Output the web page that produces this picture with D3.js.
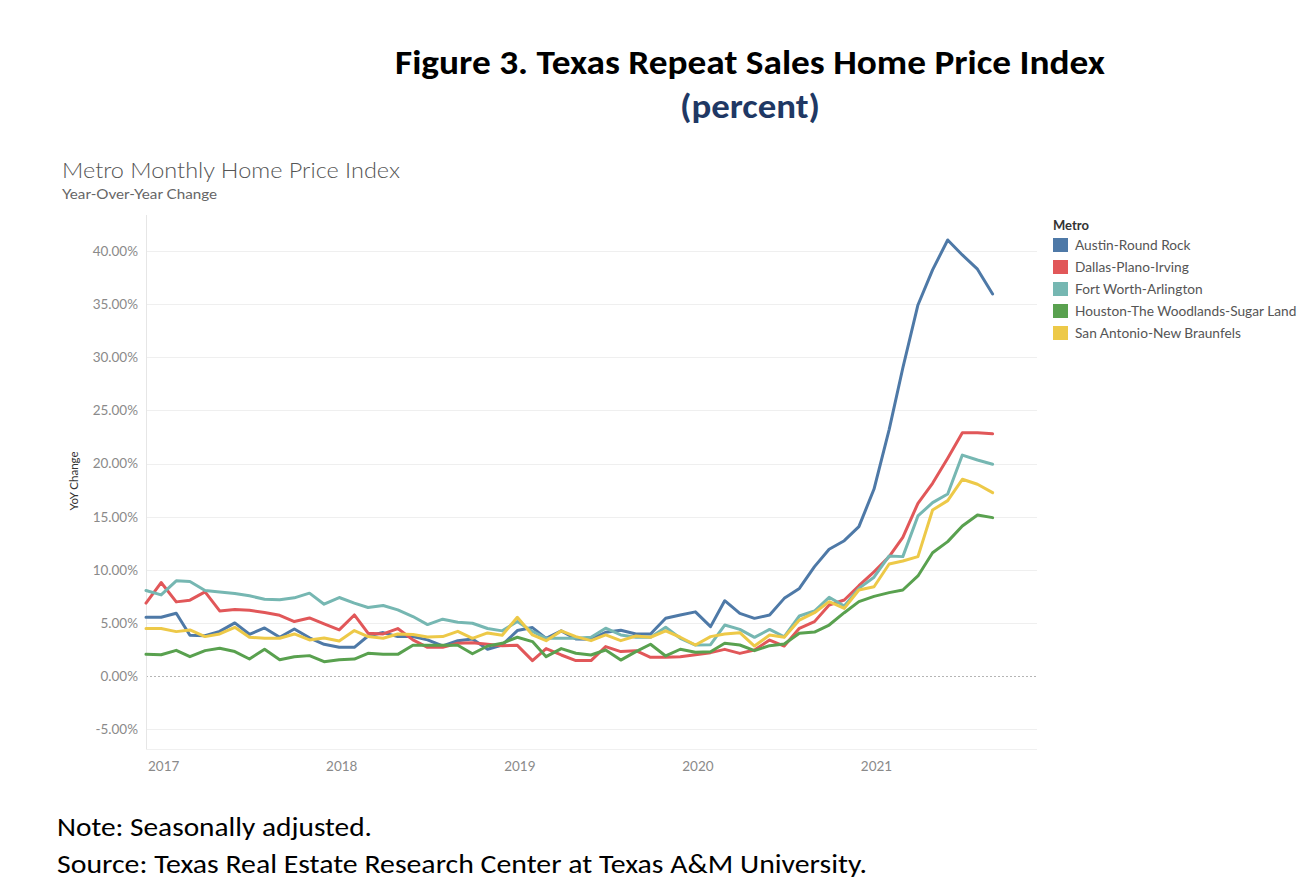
<!DOCTYPE html>
<html>
<head>
<meta charset="utf-8">
<script src="https://cdn.jsdelivr.net/npm/d3@7"></script>
<style>
  html, body { margin: 0; padding: 0; background: #fff; }
  svg { display: block; }
</style>
</head>
<body>
<svg id="chart" width="1316" height="896"></svg>
<script>
// ---------- DATA ----------
const startMonth = "2016-12";   // first monthly observation
const metros = ["Austin-Round Rock", "Dallas-Plano-Irving", "Fort Worth-Arlington",
                "Houston-The Woodlands-Sugar Land", "San Antonio-New Braunfels"];
const colors = ["#4e79a7", "#e15759", "#76b7b2", "#59a14f", "#edc948"];

const austin = [5.53,5.53,5.91,3.84,3.80,4.20,5.00,3.93,4.53,3.65,4.43,3.60,2.99,2.70,
  2.70,3.77,4.09,3.71,3.71,3.40,2.83,3.33,3.49,2.52,2.92,4.28,4.56,
  3.55,4.25,3.49,3.46,4.12,4.31,3.96,3.96,5.44,5.75,6.04,4.65,7.09,5.90,5.43,5.74,7.31,8.25,
  10.30,11.93,12.74,14.06,17.60,23.20,29.00,34.93,38.23,41.05,39.64,38.30,35.97];
const dallas = [6.86,8.80,6.98,7.14,7.92,6.13,6.26,6.19,5.97,5.72,5.13,5.47,4.90,4.34,
  5.75,4.03,3.96,4.47,3.40,2.70,2.70,3.08,3.14,2.99,2.86,2.89,1.45,
  2.58,1.98,1.45,1.45,2.77,2.30,2.39,1.76,1.76,1.82,2.00,2.20,2.51,2.13,2.45,3.39,2.82,4.49,
  5.12,6.69,7.16,8.50,9.80,11.24,13.06,16.26,18.14,20.50,22.90,22.90,22.80];
const fortWorth = [8.05,7.64,8.96,8.90,8.05,7.92,7.77,7.55,7.23,7.17,7.36,7.80,6.76,7.39,
  6.86,6.45,6.64,6.23,5.60,4.84,5.35,5.06,4.97,4.47,4.25,5.13,4.20,
  3.55,3.55,3.55,3.65,4.50,3.87,3.65,3.65,4.59,3.55,2.92,2.95,4.80,4.39,3.64,4.39,3.70,5.65,
  6.12,7.41,6.59,8.25,9.30,11.30,11.24,15.07,16.32,17.14,20.80,20.34,19.93];
const houston = [2.04,2.00,2.42,1.82,2.39,2.61,2.30,1.60,2.52,1.54,1.82,1.92,1.35,1.54,
  1.60,2.14,2.04,2.04,2.89,2.89,2.89,2.89,2.10,2.83,3.08,3.65,3.24,
  1.82,2.58,2.14,1.98,2.45,1.50,2.30,2.99,1.89,2.52,2.23,2.29,3.08,2.92,2.39,2.86,3.01,4.02,
  4.14,4.80,5.96,7.00,7.50,7.85,8.10,9.42,11.61,12.65,14.12,15.16,14.91];
const sanAntonio = [4.47,4.47,4.18,4.34,3.71,3.96,4.59,3.65,3.55,3.55,3.96,3.40,3.58,3.30,
  4.28,3.71,3.55,3.96,3.90,3.68,3.71,4.21,3.55,4.06,3.84,5.53,3.87,
  3.33,4.25,3.71,3.33,3.87,3.33,3.77,3.65,4.25,3.65,2.92,3.71,3.95,4.08,2.82,3.86,3.64,5.27,
  5.96,7.00,6.37,8.10,8.40,10.55,10.83,11.24,15.63,16.51,18.52,18.05,17.26];
const seriesValues = [austin, dallas, fortWorth, houston, sanAntonio];

const yTicks = [-5, 0, 5, 10, 15, 20, 25, 30, 35, 40];
const xTickYears = [2017, 2018, 2019, 2020, 2021];

const figTitle = "Figure 3. Texas Repeat Sales Home Price Index";
const figSubtitle = "(percent)";
const chartTitle = "Metro Monthly Home Price Index";
const chartSubtitle = "Year-Over-Year Change";
const yAxisTitle = "YoY Change";
const legendTitle = "Metro";
const noteText = "Note: Seasonally adjusted.";
const sourceText = "Source: Texas Real Estate Research Center at Texas A&M University.";

// ---------- SETUP ----------
const svg = d3.select("#chart");
const tabFont = "Lato, 'Open Sans', 'Noto Sans', sans-serif";
const docFont = "Carlito, Calibri, 'Liberation Sans Narrow', Lato, 'Open Sans', sans-serif";

const parseMonth = d3.timeParse("%Y-%m");
const t0 = parseMonth(startMonth);
const dates = austin.map((_, i) => d3.timeMonth.offset(t0, i));

const plot = { left: 146, right: 1037, top: 215, bottom: 749 };
const x = d3.scaleTime()
  .domain([t0, d3.timeMonth.offset(t0, 60)])
  .range([plot.left, plot.right]);
const y = d3.scaleLinear()
  .domain([-6.87, 43.4])
  .range([plot.bottom, plot.top]);

function fit(sel, w) {
  const len = sel.node().getComputedTextLength();
  if (Math.abs(len - w) > 1.5) sel.attr("textLength", w).attr("lengthAdjust", "spacingAndGlyphs");
  return sel;
}

// ---------- FIGURE HEADINGS ----------
fit(svg.append("text").attr("x", 395).attr("y", 74)
  .attr("font-family", docFont).attr("font-weight", "bold").attr("font-size", 35)
  .attr("fill", "#000").text(figTitle), 710);
fit(svg.append("text").attr("x", 680).attr("y", 118)
  .attr("font-family", docFont).attr("font-weight", "bold").attr("font-size", 35)
  .attr("fill", "#1f3864").text(figSubtitle), 140);

// ---------- CHART TITLES ----------
fit(svg.append("text").attr("x", 62).attr("y", 178)
  .attr("font-family", tabFont).attr("font-weight", 300).attr("font-size", 21)
  .attr("fill", "#555").text(chartTitle), 338);
fit(svg.append("text").attr("x", 62).attr("y", 199)
  .attr("font-family", tabFont).attr("font-weight", 400).attr("font-size", 13)
  .attr("fill", "#666").text(chartSubtitle), 155);

// ---------- GRID / AXES ----------
const g = svg.append("g");
g.selectAll("line.grid").data(yTicks.filter(d => d !== 0)).join("line")
  .attr("class", "grid")
  .attr("x1", plot.left).attr("x2", plot.right)
  .attr("y1", d => Math.round(y(d)) + 0.5).attr("y2", d => Math.round(y(d)) + 0.5)
  .attr("stroke", "#efefef").attr("stroke-width", 1);
// zero line
g.append("line")
  .attr("x1", plot.left).attr("x2", plot.right)
  .attr("y1", Math.round(y(0)) + 0.5).attr("y2", Math.round(y(0)) + 0.5)
  .attr("stroke", "#b5b5b5").attr("stroke-width", 1).attr("stroke-dasharray", "2,2");
// left axis line & bottom line
g.append("line").attr("x1", plot.left + 0.5).attr("x2", plot.left + 0.5)
  .attr("y1", plot.top).attr("y2", plot.bottom).attr("stroke", "#e6e6e6");
g.append("line").attr("x1", plot.left).attr("x2", plot.right)
  .attr("y1", plot.bottom + 0.5).attr("y2", plot.bottom + 0.5).attr("stroke", "#f0f0f0");

// Y axis (d3 axis, styled)
const yAxis = d3.axisLeft(y).tickValues(yTicks)
  .tickFormat(d => (d3.format(".2f")(d) + "%").replace("\u2212", "-"))
  .tickSize(0).tickPadding(8);
const yg = svg.append("g").attr("transform", `translate(${plot.left},0)`).call(yAxis);
yg.select(".domain").remove();
yg.selectAll("text").attr("font-family", tabFont).attr("font-size", 13.5).attr("fill", "#8a8a8a");

// X axis
const xAxis = d3.axisBottom(x)
  .tickValues(xTickYears.map(yr => new Date(yr, 0, 1)))
  .tickFormat(d3.timeFormat("%Y")).tickSize(0).tickPadding(12);
const xg = svg.append("g").attr("transform", `translate(0,${plot.bottom})`).call(xAxis);
xg.select(".domain").remove();
xg.selectAll("text").attr("font-family", tabFont).attr("font-size", 13.5).attr("fill", "#8a8a8a")
  .attr("dx", 2);

// Y axis title
svg.append("text")
  .attr("transform", "translate(78,481) rotate(-90)")
  .attr("text-anchor", "middle")
  .attr("font-family", tabFont).attr("font-size", 11.5).attr("fill", "#333")
  .text(yAxisTitle);

// ---------- LINES ----------
const line = d3.line().x((d, i) => x(dates[i])).y(d => y(d));
svg.append("g").selectAll("path").data(seriesValues).join("path")
  .attr("d", d => line(d))
  .attr("fill", "none")
  .attr("stroke", (d, i) => colors[i])
  .attr("stroke-width", 3)
  .attr("stroke-linejoin", "round")
  .attr("stroke-linecap", "round");

// ---------- LEGEND ----------
const lg = svg.append("g").attr("transform", "translate(1053,0)");
lg.append("text").attr("x", 0).attr("y", 230)
  .attr("font-family", tabFont).attr("font-weight", "bold").attr("font-size", 13)
  .attr("fill", "#333").text(legendTitle);
const items = lg.selectAll("g.item").data(metros).join("g")
  .attr("class", "item")
  .attr("transform", (d, i) => `translate(0,${238 + i * 22})`);
items.append("rect").attr("width", 15).attr("height", 14)
  .attr("fill", (d, i) => colors[i]);
items.append("text").attr("x", 22).attr("y", 12)
  .attr("font-family", tabFont).attr("font-size", 13.7).attr("fill", "#555")
  .text(d => d);

// ---------- NOTES ----------
fit(svg.append("text").attr("x", 57).attr("y", 836)
  .attr("font-family", docFont).attr("font-size", 27).attr("fill", "#000")
  .text(noteText), 315);
fit(svg.append("text").attr("x", 57).attr("y", 873)
  .attr("font-family", docFont).attr("font-size", 27).attr("fill", "#000")
  .text(sourceText), 810);
</script>
</body>
</html>
